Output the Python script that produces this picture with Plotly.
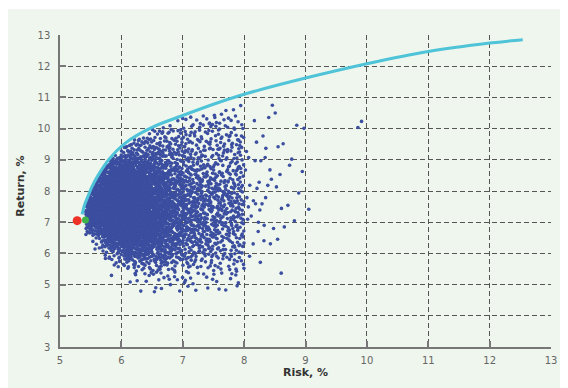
import numpy as np
import plotly.graph_objects as go

# ---- data ----
frontier_risk = [5.36, 5.40, 5.46, 5.52, 5.62, 5.80, 6.08, 6.50, 7.00, 7.50, 8.00, 9.00, 10.00, 11.00, 12.00, 12.54]
frontier_return = [7.25, 7.55, 7.85, 8.13, 8.50, 9.02, 9.56, 10.04, 10.42, 10.78, 11.10, 11.62, 12.08, 12.47, 12.74, 12.85]

min_risk_point = [5.28, 7.05]      # red
tangency_point = [5.415, 7.07]     # green

# density of the simulated-portfolio cloud, points per cell
risk_edges = [5.42, 5.5, 5.75, 6.0, 6.25, 6.5, 6.75, 7.0, 7.25, 7.5, 7.75, 8.0,
              8.25, 8.5, 8.75, 9.0, 9.25, 9.5, 9.75, 10.0]
return_edges = [10.75, 10.25, 9.75, 9.25, 8.75, 8.25, 7.75, 7.25, 6.75, 6.25, 5.75, 5.25, 4.75]
cloud_counts = [
    [0, 0, 0, 0, 0, 1, 1, 2, 3, 4, 4, 0, 1, 1, 0, 0, 0, 0, 0],            # 10.5
    [0, 0, 0, 2, 6, 9, 10, 11, 10, 10, 9, 1, 1, 0, 1, 0, 0, 0, 1],        # 10.0
    [0, 0, 4, 18, 24, 22, 18, 16, 14, 13, 12, 2, 2, 1, 1, 0, 0, 0, 0],    # 9.5
    [0, 8, 40, 52, 44, 33, 24, 20, 17, 15, 14, 2, 2, 1, 1, 0, 0, 0, 0],   # 9.0
    [4, 45, 95, 100, 88, 58, 37, 28, 23, 18, 16, 3, 2, 1, 0, 1, 0, 0, 0], # 8.5
    [15, 85, 135, 140, 118, 72, 45, 34, 28, 22, 20, 3, 2, 1, 1, 0, 0, 0, 0],   # 8.0
    [35, 105, 155, 160, 132, 78, 48, 36, 30, 24, 22, 4, 2, 1, 1, 0, 0, 0, 0],  # 7.5
    [30, 95, 145, 150, 122, 75, 46, 36, 28, 24, 20, 3, 2, 1, 1, 0, 0, 0, 0],   # 7.0
    [2, 25, 90, 115, 98, 62, 40, 30, 24, 20, 18, 2, 2, 1, 0, 0, 0, 0, 0],      # 6.5
    [0, 1, 18, 48, 50, 38, 28, 22, 17, 14, 13, 1, 1, 0, 0, 0, 0, 0, 0],       # 6.0
    [0, 0, 1, 6, 11, 13, 11, 9, 8, 7, 7, 1, 0, 0, 0, 0, 0, 0, 0],             # 5.5
    [0, 0, 0, 1, 2, 3, 4, 4, 3, 2, 3, 0, 0, 1, 0, 0, 0, 0, 0],                # 5.0
]
cliff_risk = 8.0   # dense simulations stop abruptly at this risk

x_ticks = [5, 6, 7, 8, 9, 10, 11, 12, 13]
y_ticks = [3, 4, 5, 6, 7, 8, 9, 10, 11, 12, 13]


# ---- lay the cloud out following the read density (deterministic Halton layout) ----
def halton(idx, b):
    idx = np.asarray(idx, dtype=np.int64).copy()
    f = np.ones(idx.shape)
    r = np.zeros(idx.shape)
    while np.any(idx > 0):
        f = f / b
        r = r + f * (idx % b)
        idx = idx // b
    return r


counts = np.array(cloud_counts, dtype=float)
rx = np.array(risk_edges)
ry = np.array(return_edges)
xc = (rx[:-1] + rx[1:]) / 2
yc = (ry[:-1] + ry[1:]) / 2
dens = counts / (np.diff(rx)[None, :] * np.abs(np.diff(ry))[:, None])
yc_up = yc[::-1]
dens_up = dens[::-1, :]


def density(px, py, cols):
    xs = xc[cols]
    d = dens_up[:, cols]
    fx = np.interp(px, xs, np.arange(len(xs)))
    fy = np.interp(py, yc_up, np.arange(len(yc_up)))
    x0 = np.floor(fx).astype(int); x1 = np.minimum(x0 + 1, len(xs) - 1)
    y0 = np.floor(fy).astype(int); y1 = np.minimum(y0 + 1, len(yc_up) - 1)
    tx = fx - x0; ty = fy - y0
    return ((1 - tx) * (1 - ty) * d[y0, x0] + tx * (1 - ty) * d[y0, x1]
            + (1 - tx) * ty * d[y1, x0] + tx * ty * d[y1, x1])


cx, cy = [], []
ncol = len(xc)
split = int(np.searchsorted(rx, cliff_risk))
regions = [(np.arange(0, split), rx[0], cliff_risk), (np.arange(split, ncol), cliff_risk, rx[-1])]
start = 1
for cols, xlo, xhi in regions:
    target = int(counts[:, cols].sum())
    dmax = dens[:, cols].max()
    idx = np.arange(start, start + 400000)
    start += 400000
    px = xlo + (xhi - xlo) * halton(idx, 2)
    py = ry[-1] + (ry[0] - ry[-1]) * halton(idx, 3)
    u = halton(idx, 5)
    ok = (u * dmax < density(px, py, cols)) & (py < np.interp(px, frontier_risk, frontier_return) - 0.06)
    cx.extend(px[ok][:target].tolist())
    cy.extend(py[ok][:target].tolist())

fig = go.Figure()
fig.add_trace(go.Scatter(x=cx, y=cy, mode="markers",
                         marker=dict(size=3.6, color="#3b4ea0", line=dict(width=0)),
                         hoverinfo="skip", showlegend=False))
fig.add_trace(go.Scatter(x=frontier_risk, y=frontier_return, mode="lines",
                         line=dict(color="#4fc3d8", width=3, shape="spline", smoothing=1.0),
                         showlegend=False))
fig.add_trace(go.Scatter(x=[min_risk_point[0]], y=[min_risk_point[1]], mode="markers",
                         marker=dict(size=9, color="#ee3226"), showlegend=False))
fig.add_trace(go.Scatter(x=[tangency_point[0]], y=[tangency_point[1]], mode="markers",
                         marker=dict(size=7, color="#3cb44b"), showlegend=False))

# the page body has an 8px margin; figure is laid out so the plot sits where the reference has it
W, H = 560, 380
ML, MR, MT, MB = 51.5, 17.3, 27, 41.3
pw, ph = W - ML - MR, H - MT - MB
green = "#eff6ed"
fig.add_shape(type="rect", xref="paper", yref="paper",
              x0=(-1 - ML) / pw, x1=(W - ML) / pw,
              y0=-MB / ph, y1=(H - 1 - MB) / ph,
              fillcolor=green, line=dict(width=0), layer="below")

axis_common = dict(
    showgrid=True, gridcolor="#555", gridwidth=1, griddash="5px,3px",
    showline=True, linecolor="#777", linewidth=1.5,
    ticks="inside", ticklen=6, tickcolor="#777", tickwidth=1.5,
    tickfont=dict(family="DejaVu Sans", size=10, color="#666"),
    zeroline=False, fixedrange=True,
)
fig.update_xaxes(range=[5, 13], tickvals=x_ticks, ticklabelstandoff=3, **axis_common)
fig.update_yaxes(range=[3, 13], tickvals=y_ticks, ticklabelstandoff=6, **axis_common)

# title centres in window pixels: Risk (305, 372), Return (20, 186)
fig.add_annotation(text="<b>Risk, %</b>", xref="paper", yref="paper",
                   x=0.5, y=-(372 - 346.7) / ph, xanchor="center", yanchor="middle",
                   showarrow=False,
                   font=dict(family="DejaVu Sans", size=11, color="#333"))
fig.add_annotation(text="<b>Return, %</b>", xref="paper", yref="paper",
                   x=(20 - 8 - ML) / pw, y=(346.7 - 186) / ph, xanchor="center", yanchor="middle",
                   showarrow=False, textangle=-90,
                   font=dict(family="DejaVu Sans", size=11, color="#333"))

fig.update_layout(
    width=W, height=H,
    margin=dict(l=ML, r=MR, t=MT, b=MB, pad=0),
    paper_bgcolor="white", plot_bgcolor=green,
    showlegend=False,
)

fig.write_html("out.html")
